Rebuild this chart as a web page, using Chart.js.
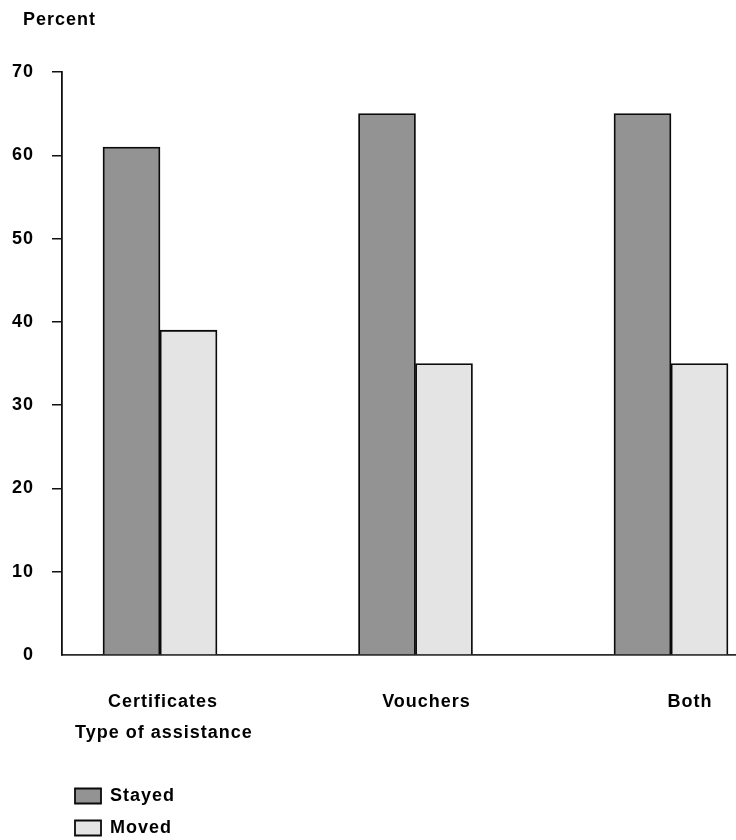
<!DOCTYPE html>
<html>
<head>
<meta charset="utf-8">
<script src="https://cdn.jsdelivr.net/npm/chart.js@4/dist/chart.umd.min.js"></script>
<style>
  html, body { margin: 0; padding: 0; background: #ffffff; }
  #wrap { width: 736px; height: 840px; }
</style>
</head>
<body>
<div id="wrap"><canvas id="c" width="736" height="840"></canvas></div>
<script>
// ---- data ----
const categories = ['Certificates', 'Vouchers', 'Both'];
const stayed = [61, 65, 65];
const moved = [39, 35, 35];
const seriesNames = ['Stayed', 'Moved'];
const yTicks = [0, 10, 20, 30, 40, 50, 60, 70];
const yTitle = 'Percent';
const xTitle = 'Type of assistance';

const FONT = "'Liberation Sans', Arial, Helvetica, sans-serif";
const bold18 = { family: FONT, size: 18, weight: 'bold' };

const spacing = {
  id: 'spacing',
  beforeLayout(chart) { chart.ctx.letterSpacing = '1px'; },
  beforeDraw(chart) { chart.ctx.letterSpacing = '1px'; }
};
const nudge = {
  id: 'nudge',
  afterLayout(chart) {
    const ca = chart.chartArea;
    const lg = chart.legend;
    if (lg) {
      lg.left = ca.left - 1; lg.right = lg.left + 220; lg.width = 220;
      lg.bottom = chart.height; lg.height = lg.bottom - lg.top;
    }
    const s = chart.scales.x2;
    if (s) { s.left = ca.left + 13; }
    const y = chart.scales.y;
    if (y) { y.left = 0; }
  }
};

const toPoints = arr => arr.map((v, i) => ({ x: i, y: v }));

new Chart(document.getElementById('c'), {
  type: 'bar',
  data: {
    datasets: [
      { label: seriesNames[0], data: toPoints(stayed), backgroundColor: '#939393', borderColor: '#0a0a0a', borderWidth: 1.8 },
      { label: seriesNames[1], data: toPoints(moved), backgroundColor: '#e4e4e4', borderColor: '#0a0a0a', borderWidth: 1.8 }
    ]
  },
  options: {
    responsive: false,
    devicePixelRatio: 1,
    animation: false,
    barThickness: 57,
    layout: { padding: { left: 23, top: 0, right: 0, bottom: 25 } },
    color: '#000',
    font: bold18,
    plugins: {
      tooltip: { enabled: false },
      title: {
        display: true, text: yTitle, align: 'start', color: '#000', font: bold18,
        padding: { top: 9, bottom: 41.4 }
      },
      legend: {
        display: true, position: 'bottom', align: 'start', fullSize: false,
        labels: { boxWidth: 26, boxHeight: 15, padding: 14, color: '#000', font: bold18 }
      }
    },
    scales: {
      x: {
        type: 'linear', axis: 'x', position: 'bottom', weight: 0, offset: false,
        min: -0.3836, max: 2.2544,
        ticks: { display: false },
        grid: { display: false, drawTicks: false },
        border: { display: true, color: '#2a2a2a', width: 1.8 }
      },
      x2: {
        type: 'linear', axis: 'x', position: 'bottom', weight: 1, offset: false,
        min: -0.3833, max: 2.1746,
        grid: { display: false, drawTicks: true, tickLength: 36 },
        border: { display: false },
        ticks: {
          stepSize: 1, includeBounds: false, autoSkip: false, maxRotation: 0, minRotation: 0,
          padding: 0, color: '#000', font: bold18,
          callback: v => (Number.isInteger(v) && categories[v] !== undefined) ? categories[v] : ''
        },
        title: { display: true, text: xTitle, align: 'start', color: '#000', font: bold18, padding: { top: 10, bottom: 28.8 } }
      },
      y: {
        type: 'linear', position: 'left', min: 0, max: 70,
        afterFit: s => { s.width = 39; },
        afterBuildTicks: s => { s.ticks = yTicks.map(v => ({ value: v })); },
        ticks: { stepSize: 10, padding: 18, color: '#000', font: bold18 },
        grid: {
          display: true, drawOnChartArea: false, drawTicks: true, tickLength: 10,
          color: c => (c.tick && c.tick.value === 0) ? 'rgba(0,0,0,0)' : '#111111', lineWidth: 1.5
        },
        border: { display: true, color: '#111111', width: 1.8 }
      }
    }
  },
  plugins: [spacing, nudge]
});
</script>
</body>
</html>
